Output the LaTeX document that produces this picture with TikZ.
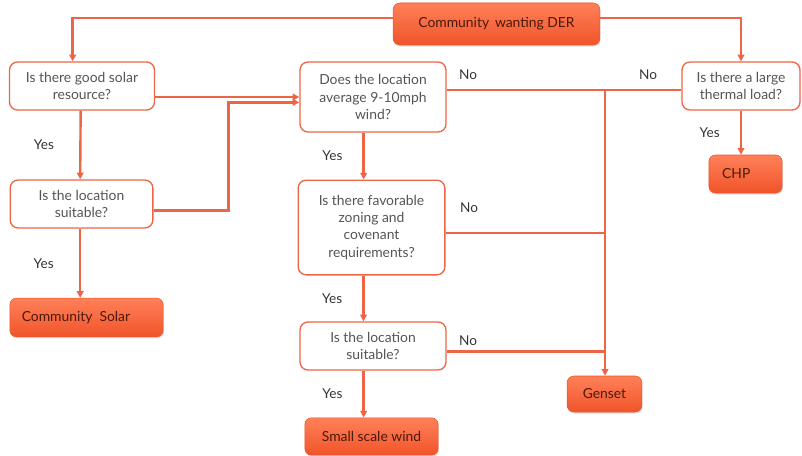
\documentclass[tikz,border=0pt]{standalone}
\usepackage{fontspec}
\setmainfont{Lato}
\usepackage{xcolor}
\usepackage{tikz}
\usetikzlibrary{arrows.meta,calc,positioning,shadows}
\definecolor{lineorange}{HTML}{EE6545}
\definecolor{boxtop}{HTML}{FF8058}
\definecolor{boxbot}{HTML}{F0542A}
\definecolor{asktext}{HTML}{555555}
\definecolor{restext}{HTML}{4A1A0C}
\definecolor{lbltext}{HTML}{333333}

\tikzset{
  ask/.style={draw=lineorange,line width=1pt,fill=white,rounded corners=6pt,align=center,text=asktext,inner sep=2pt,font=\fontsize{10.4}{12.8}\selectfont},
  result/.style={rounded corners=5pt,top color=boxtop,bottom color=boxbot,draw=boxbot,line width=0.4pt,text=restext,inner sep=2pt,font=\fontsize{10.4}{12.8}\selectfont,
    drop shadow={opacity=0.25,shadow xshift=0.6pt,shadow yshift=-1.2pt}},
  flow/.style={draw=lineorange,line width=1.8pt,-{Triangle[length=5pt,width=5pt]}},
  link/.style={draw=lineorange,line width=1.8pt},
  lbl/.style={text=lbltext,inner sep=1pt,font=\fontsize{10.2}{12}\selectfont}
}

\begin{document}
\begin{tikzpicture}[x=0.75pt,y=-0.75pt]
  \useasboundingbox (0,0) rectangle (802,456);
  % decisions and outcomes
  \node[result,minimum width=155pt,minimum height=31.5pt] (der) at (496.5,24) {Community\, wanting DER};
  \node[ask,minimum width=108.75pt,minimum height=36pt] (solar) at (82,86) {Is there good solar\\resource?};
  \node[ask,minimum width=107pt,minimum height=36pt] (site) at (81.5,204) {Is the location\\suitable?};
  \node[result,minimum height=29pt,text width=97pt,inner xsep=9pt,align=left] (comsolar) at (86.5,317.5) {Community\, Solar};
  \node[ask,minimum width=109.5pt,minimum height=52.5pt] (wind) at (373,97) {Does the location\\average 9-10mph\\wind?};
  \node[ask,minimum width=110pt,minimum height=71pt] (zoning) at (371.5,227.5) {Is there favorable\\zoning and\\covenant\\requirements?};
  \node[ask,minimum width=109.5pt,minimum height=36pt] (windsite) at (373,346) {Is the location\\suitable?};
  \node[result,minimum width=100pt,minimum height=28pt] (smallwind) at (371.5,436.5) {Small scale wind};
  \node[result,minimum width=56pt,minimum height=27pt] (genset) at (604.5,394) {Genset};
  \node[ask,minimum width=88.5pt,minimum height=36pt] (thermal) at (741,86) {Is there a large\\thermal load?};
  \node[result,minimum height=28.5pt,text width=35pt,inner xsep=10pt,align=left] (chp) at (745.5,174) {CHP};
  \coordinate (jn) at (605,90);
  \coordinate (zoneout) at ([yshift=-4pt]zoning.east);
  \coordinate (siteout) at ([yshift=-4pt]windsite.east);

  % connectors
  \draw[flow] ([yshift=4.5pt]der.west) -| ([xshift=-7pt]solar.north);
  \draw[flow] ([yshift=4.5pt]der.east) -| (thermal.north);
  \draw[flow] ([xshift=-1pt]solar.south) -- node[lbl,left=18pt] (yes1) {Yes} ([xshift=-1pt]site.north);
  \draw[flow] ([xshift=-1pt]site.south) -- node[lbl,left=18pt] (yes2) {Yes} ([xshift=-1pt]site.south |- comsolar.north);
  \draw[flow] (solar.east |- wind.west) -- (wind.west);
  \draw[flow] ([yshift=-5pt]site.east) -- ++(75,0) |- ([yshift=-4pt]wind.west);
  \draw[flow] ([xshift=-7pt]wind.south) -- node[lbl,left=14pt] (yes3) {Yes} ([xshift=-7pt]wind.south |- zoning.north);
  \draw[flow] ([xshift=-6pt]zoning.south) -- node[lbl,left=14pt] (yes4) {Yes} ([xshift=-6pt]zoning.south |- windsite.north);
  \draw[flow] ([xshift=-7pt]windsite.south) -- node[lbl,left=14pt] (yes5) {Yes} ([xshift=-7pt]windsite.south |- smallwind.north);
  \draw[flow] (thermal.south) -- node[lbl,left=14pt] (yes6) {Yes} (thermal.south |- chp.north);
  \draw[link] (wind.east |- jn) -- (thermal.west |- jn);
  \draw[link] (zoneout) -- (jn |- zoneout);
  \draw[link] (siteout) -- (jn |- siteout);
  \draw[flow] (jn) -- (jn |- genset.north);

  % branch labels
  \node[lbl] (no1) at (468,75) {No};
  \node[lbl] (no2) at (648,75) {No};
  \node[lbl] (no3) at (469,208) {No};
  \node[lbl] (no4) at (468,341) {No};
\end{tikzpicture}
\end{document}
